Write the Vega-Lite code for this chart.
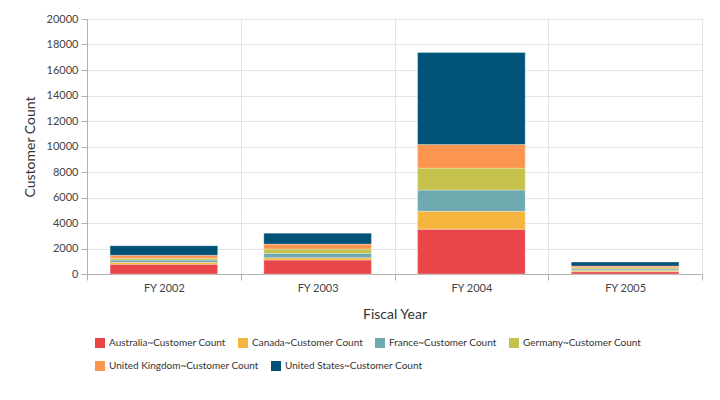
{
  "$schema": "https://vega.github.io/schema/vega-lite/v6.json",
  "autosize": {"type": "none"},
  "width": 615,
  "height": 255,
  "padding": {"left": 87, "top": 19, "right": 18, "bottom": 126},
  "background": "white",
  "config": {
    "font": "Lato",
    "view": {"stroke": "#e0e0e0"},
    "axis": {
      "labelFont": "Lato",
      "titleFont": "Lato",
      "labelColor": "#444444",
      "titleColor": "#333333",
      "titleFontWeight": "normal",
      "domainColor": "#b0b0b0",
      "tickColor": "#b0b0b0",
      "gridColor": "#e3e3e3",
      "labelFontSize": 11,
      "titleFontSize": 14
    },
    "legend": {
      "title": null,
      "orient": "none",
      "direction": "horizontal",
      "symbolType": "square",
      "symbolSize": 100,
      "symbolStrokeWidth": 0,
      "labelFont": "Lato",
      "labelFontSize": 10,
      "labelColor": "#333333",
      "labelOffset": 4,
      "columnPadding": 12,
      "labelLimit": 300
    }
  },
  "data": {
    "values": [
      {"year": "FY 2002", "country": "Australia~Customer Count", "order": 1, "count": 760},
      {"year": "FY 2002", "country": "Canada~Customer Count", "order": 2, "count": 160},
      {"year": "FY 2002", "country": "France~Customer Count", "order": 3, "count": 180},
      {"year": "FY 2002", "country": "Germany~Customer Count", "order": 4, "count": 140},
      {"year": "FY 2002", "country": "United Kingdom~Customer Count", "order": 5, "count": 230},
      {"year": "FY 2002", "country": "United States~Customer Count", "order": 6, "count": 750},
      {"year": "FY 2003", "country": "Australia~Customer Count", "order": 1, "count": 1094},
      {"year": "FY 2003", "country": "Canada~Customer Count", "order": 2, "count": 180},
      {"year": "FY 2003", "country": "France~Customer Count", "order": 3, "count": 344},
      {"year": "FY 2003", "country": "Germany~Customer Count", "order": 4, "count": 336},
      {"year": "FY 2003", "country": "United Kingdom~Customer Count", "order": 5, "count": 390},
      {"year": "FY 2003", "country": "United States~Customer Count", "order": 6, "count": 859},
      {"year": "FY 2004", "country": "Australia~Customer Count", "order": 1, "count": 3516},
      {"year": "FY 2004", "country": "Canada~Customer Count", "order": 2, "count": 1406},
      {"year": "FY 2004", "country": "France~Customer Count", "order": 3, "count": 1664},
      {"year": "FY 2004", "country": "Germany~Customer Count", "order": 4, "count": 1719},
      {"year": "FY 2004", "country": "United Kingdom~Customer Count", "order": 5, "count": 1852},
      {"year": "FY 2004", "country": "United States~Customer Count", "order": 6, "count": 7211},
      {"year": "FY 2005", "country": "Australia~Customer Count", "order": 1, "count": 180},
      {"year": "FY 2005", "country": "Canada~Customer Count", "order": 2, "count": 100},
      {"year": "FY 2005", "country": "France~Customer Count", "order": 3, "count": 110},
      {"year": "FY 2005", "country": "Germany~Customer Count", "order": 4, "count": 100},
      {"year": "FY 2005", "country": "United Kingdom~Customer Count", "order": 5, "count": 130},
      {"year": "FY 2005", "country": "United States~Customer Count", "order": 6, "count": 312}
    ]
  },
  "transform": [
    {"stack": "count", "groupby": ["year"], "sort": [{"field": "order", "order": "ascending"}], "as": ["y0", "y1"]}
  ],
  "encoding": {
    "x": {
      "field": "year",
      "type": "nominal",
      "title": "Fiscal Year",
      "scale": {"paddingInner": 0, "paddingOuter": 0},
      "axis": {
        "labelAngle": 0,
        "tickBand": "extent",
        "grid": true,
        "ticks": true,
        "tickSize": 6,
        "labelPadding": 2,
        "titlePadding": 14
      }
    },
    "y": {
      "field": "y0",
      "type": "quantitative",
      "title": "Customer Count",
      "scale": {"domain": [0, 20000]},
      "axis": {
        "values": [0, 2000, 4000, 6000, 8000, 10000, 12000, 14000, 16000, 18000, 20000],
        "format": "d",
        "tickSize": 6,
        "labelPadding": 3,
        "titlePadding": 9
      }
    },
    "y2": {"field": "y1"}
  },
  "layer": [
    {
      "transform": [{"filter": "datum.order <= 4"}],
      "mark": {"type": "bar", "width": {"band": 0.7}, "stroke": "white", "strokeWidth": 0.5, "strokeOpacity": 0.6},
      "encoding": {
        "color": {
          "field": "country",
          "type": "nominal",
          "scale": {
            "domain": ["Australia~Customer Count", "Canada~Customer Count", "France~Customer Count", "Germany~Customer Count"],
            "range": ["#E94649", "#F6B53F", "#6FAAB0", "#C4C24A"]
          },
          "legend": {"legendX": 8, "legendY": 319}
        }
      }
    },
    {
      "transform": [{"filter": "datum.order >= 5"}],
      "mark": {"type": "bar", "width": {"band": 0.7}, "stroke": "white", "strokeWidth": 0.5, "strokeOpacity": 0.6},
      "encoding": {
        "color": {
          "field": "country",
          "type": "nominal",
          "scale": {
            "domain": ["United Kingdom~Customer Count", "United States~Customer Count"],
            "range": ["#FB954F", "#005277"]
          },
          "legend": {"legendX": 8, "legendY": 342}
        }
      }
    }
  ],
  "resolve": {"scale": {"color": "independent"}, "legend": {"color": "independent"}}
}
